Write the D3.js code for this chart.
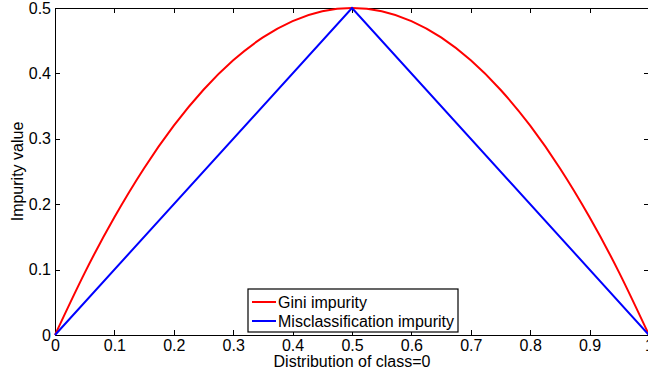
<!DOCTYPE html>
<html lang="en">
<head>
    <meta charset="UTF-8"/>
    <title>Impurity measures</title>
    <script src="https://d3js.org/d3.v7.min.js"></script>
    <style type="text/css">
        body { margin: 0; background: #fff; }
        text {
            font-family: "Liberation Sans", Arial, sans-serif;
            font-size: 16px;
            fill: #000;
        }
        .axis text { font-size: 16px; }
        .axis path, .axis line {
            fill: none;
            stroke: #000;
            shape-rendering: crispEdges;
        }
        path.line { fill: none; stroke-width: 2px; }
    </style>
</head>
<body>
<div id="chart"></div>
<script>
    // data
    var pValues = [0, 0.05, 0.1, 0.15, 0.2, 0.25, 0.3, 0.35, 0.4, 0.45, 0.5,
        0.55, 0.6, 0.65, 0.7, 0.75, 0.8, 0.85, 0.9, 0.95, 1];
    var giniValues = [0, 0.095, 0.18, 0.255, 0.32, 0.375, 0.42, 0.455, 0.48, 0.495, 0.5,
        0.495, 0.48, 0.455, 0.42, 0.375, 0.32, 0.255, 0.18, 0.095, 0];
    var misP = [0, 0.5, 1];
    var misValues = [0, 0.5, 0];
    var xTicks = [0, 0.1, 0.2, 0.3, 0.4, 0.5, 0.6, 0.7, 0.8, 0.9, 1];
    var yTicks = [0, 0.1, 0.2, 0.3, 0.4, 0.5];
    var seriesNames = ["Gini impurity", "Misclassification impurity"];
    var seriesColors = ["#ff0000", "#0000ff"];

    var W = 648, H = 377;
    var margin = {top: 8, right: -1, bottom: 42, left: 55},
        width = W - margin.left - margin.right,
        height = H - margin.top - margin.bottom;

    var svg = d3.select("#chart").append("svg")
        .attr("width", W)
        .attr("height", H)
        .append("g")
        .attr("transform", "translate(" + margin.left + "," + margin.top + ")");

    var x = d3.scaleLinear().domain([0, 1]).range([0, width]);
    var y = d3.scaleLinear().domain([0, 0.5]).range([height, 0]);

    var fmt = function (d) { return d === 0 ? "0" : d3.format("")(d); };

    // bottom axis, ticks pointing inward
    svg.append("g")
        .attr("class", "axis")
        .attr("transform", "translate(0," + height + ")")
        .call(d3.axisBottom(x).tickValues(xTicks).tickSizeInner(-5).tickSizeOuter(0)
            .tickPadding(3).tickFormat(fmt))
        .selectAll("text").attr("dy", "0.8em");

    // left axis
    svg.append("g")
        .attr("class", "axis")
        .call(d3.axisLeft(y).tickValues(yTicks).tickSizeInner(-5).tickSizeOuter(0)
            .tickPadding(4).tickFormat(fmt));

    // top and right box lines
    svg.append("g")
        .attr("class", "axis")
        .call(d3.axisTop(x).tickValues(xTicks).tickSizeInner(-5).tickSizeOuter(0).tickFormat(""));
    svg.append("g")
        .attr("class", "axis")
        .attr("transform", "translate(" + width + ",0)")
        .call(d3.axisRight(y).tickValues(yTicks).tickSizeInner(-5).tickSizeOuter(0).tickFormat(""));

    svg.selectAll(".axis .domain").attr("stroke-width", 1.5);

    // lines
    var giniLine = d3.line()
        .x(function (d, i) { return x(pValues[i]); })
        .y(function (d) { return y(d); })
        .curve(d3.curveNatural);
    svg.append("path")
        .attr("class", "line")
        .attr("stroke", seriesColors[0])
        .attr("d", giniLine(giniValues));

    var misLine = d3.line()
        .x(function (d, i) { return x(misP[i]); })
        .y(function (d) { return y(d); });
    svg.append("path")
        .attr("class", "line")
        .attr("stroke", seriesColors[1])
        .attr("d", misLine(misValues));

    // axis labels
    svg.append("text")
        .attr("x", x(0.5))
        .attr("y", height + 32)
        .attr("text-anchor", "middle")
        .text("Distribution of class=0");
    svg.append("text")
        .attr("transform", "translate(" + (-32) + "," + (height / 2) + ")rotate(-90)")
        .attr("text-anchor", "middle")
        .text("Impurity value");

    // legend
    var lg = svg.append("g").attr("transform", "translate(" + (248 - margin.left) + "," + (289 - margin.top) + ")");
    lg.append("rect")
        .attr("width", 210).attr("height", 43)
        .attr("fill", "#fff").attr("stroke", "#000").attr("stroke-width", 1.2);
    seriesNames.forEach(function (name, i) {
        var yy = 13 + i * 19;
        lg.append("line")
            .attr("x1", 4).attr("x2", 28).attr("y1", yy).attr("y2", yy)
            .attr("stroke", seriesColors[i]).attr("stroke-width", 2);
        lg.append("text")
            .attr("x", 30).attr("y", yy).attr("dy", "0.35em")
            .text(name);
    });
</script>
</body>
</html>
